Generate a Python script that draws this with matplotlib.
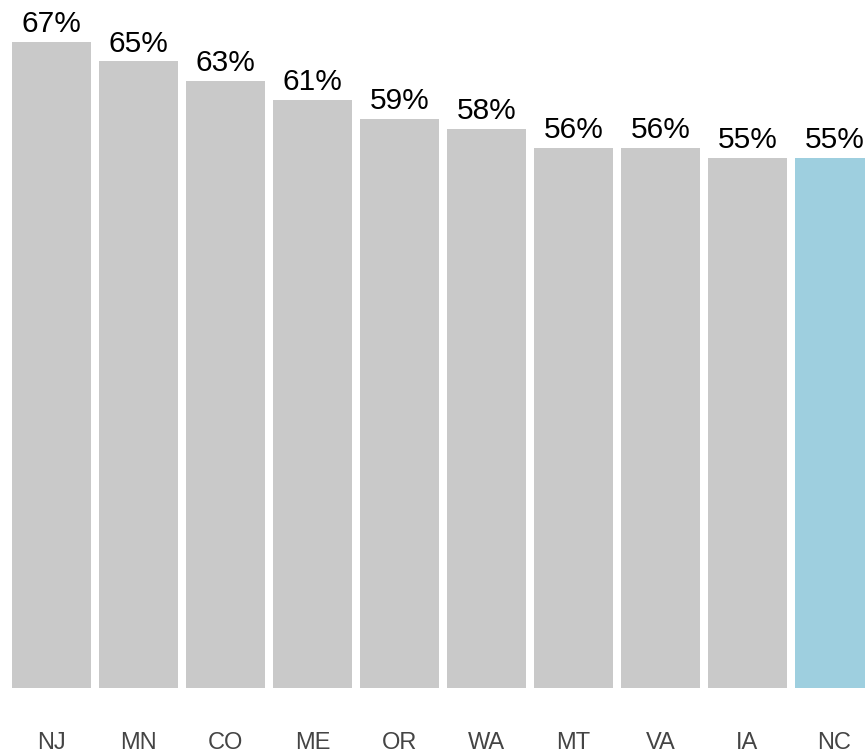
import matplotlib
matplotlib.use("Agg")
import matplotlib.pyplot as plt

# données
states = ["NJ", "MN", "CO", "ME", "OR", "WA", "MT", "VA", "IA", "NC"]
values = [67, 65, 63, 61, 59, 58, 56, 56, 55, 55]
highlight = "NC"

plt.rcParams['font.family'] = ['Liberation Sans', 'DejaVu Sans']

fig = plt.figure(figsize=(8.65, 7.53), dpi=100)
ax = fig.add_axes([0, 65 / 753, 1, 688 / 753])

colors = ['#9ecfdf' if s == highlight else '#c9c9c9' for s in states]
x = list(range(len(states)))
ax.bar(x, values, width=79 / 87, color=colors)

for xi, v in zip(x, values):
    ax.annotate(f"{v}%", (xi, v), xytext=(0, 7), textcoords='offset points',
                ha='center', va='baseline', fontsize=21.5, color='black')

ax.set_xlim(-51.5 / 87, (865 - 51.5) / 87)
ax.set_ylim(0, 688 / (646 / 67))
ax.set_xticks(x)
ax.set_xticklabels(states, fontsize=17, color='#444444')
ax.tick_params(axis='x', length=0, pad=32)
ax.set_yticks([])
for sp in ax.spines.values():
    sp.set_visible(False)

fig.savefig("out.png", dpi=100)
